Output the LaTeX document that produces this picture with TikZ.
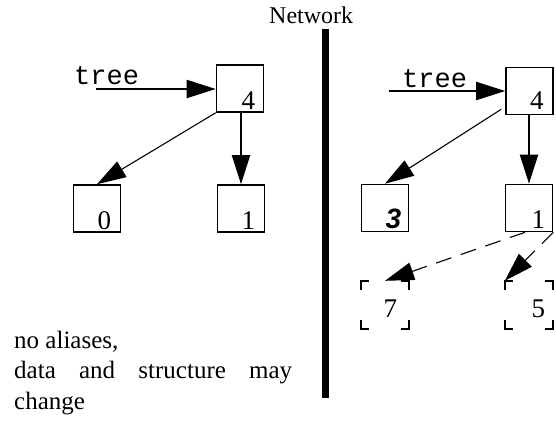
\documentclass[tikz,border=0pt]{standalone}
\usepackage{fontspec}
\setmainfont{Liberation Serif}
\newfontfamily\monofnt{Liberation Mono}
\newfontfamily\sansfnt{Liberation Sans}
\usetikzlibrary{arrows.meta}
\begin{document}
\begin{tikzpicture}[x=1pt,y=-1pt,
  box/.style={draw,line width=1.6pt,minimum width=47pt,minimum height=47pt,inner sep=0pt},
  ghost/.style={minimum width=48pt,minimum height=48pt,inner sep=0pt},
  digit/.style={font=\fontsize{27}{30}\selectfont,inner sep=0pt,anchor=base east},
  lbl/.style={font=\fontsize{25}{30}\selectfont,inner sep=0pt,anchor=base west},
  ptr/.style={font=\monofnt\fontsize{27}{30}\selectfont,inner sep=0pt,anchor=base west},
  tip/.style={-{Triangle[length=29pt,width=18pt]}},
  thinarr/.style={tip,line width=1.1pt},
  thickarr/.style={tip,line width=2pt},
  dasharr/.style={tip,line width=1.1pt,dash pattern=on 16pt off 10pt},
  corner/.style={line width=1.6pt}]
\useasboundingbox (0,0) rectangle (556,420);
% title and divider
\node[lbl,font=\fontsize{24}{28}\selectfont] (title) at (269,24) {Network};
\draw[line width=7pt] (325.5,29) -- (325.5,398);
% left tree
\node[box] (L4) at (240,88.5) {};
\node[digit] at ([xshift=-9pt,yshift=3pt]L4.south east) {4};
\node[box] (L0) at (97,208.5) {};
\node[digit] at ([xshift=-10pt,yshift=3pt]L0.south east) {0};
\node[box] (L1) at (241,208.5) {};
\node[digit] at ([xshift=-10pt,yshift=3pt]L1.south east) {1};
\node[ptr] (tl) at (74,84) {tree};
\coordinate (tls) at (96,89);
\draw[thickarr] (tls) -- (tls -| L4.west);
\draw[thinarr] (L4.south west) -- (L0.north);
\draw[thickarr] (L1.north |- L4.south) -- (L1.north);
% right tree
\node[box] (R4) at (529.5,91) {};
\node[digit] at ([xshift=-10pt,yshift=6pt]R4.south east) {4};
\node[box] (R3) at (385,208) {};
\node[digit,font=\sansfnt\bfseries\itshape\fontsize{28}{30}\selectfont] at ([xshift=-8pt,yshift=4pt]R3.south east) {3};
\node[box] (R1) at (529,208) {};
\node[digit] at ([xshift=-8pt,yshift=4pt]R1.south east) {1};
\node[ghost] (R7) at (385,305) {};
\node[ghost] (R5) at (529,305) {};
\foreach \n in {R7,R5}{
  \draw[corner] ([yshift=-9pt]\n.north west) -- (\n.north west) -- ([xshift=8pt]\n.north west);
  \draw[corner] ([yshift=-9pt]\n.north east) -- (\n.north east) -- ([xshift=-8pt]\n.north east);
  \draw[corner] ([yshift=9pt]\n.south west) -- (\n.south west) -- ([xshift=8pt]\n.south west);
  \draw[corner] ([yshift=9pt]\n.south east) -- (\n.south east) -- ([xshift=-8pt]\n.south east);
}
\node[digit] at ([xshift=-12pt,yshift=12pt]R7.south east) {7};
\node[digit] at ([xshift=-8pt,yshift=12pt]R5.south east) {5};
\node[ptr] (tr) at (402,87) {tree};
\coordinate (trs) at (389,91);
\draw[thickarr] (trs) -- (trs -| R4.west);
\draw[thinarr] ([xshift=-4pt,yshift=6pt]R4.south west) -- (R3.north);
\draw[thickarr] (R1.north |- R4.south) -- (R1.north);
\draw[dasharr] ([xshift=-4pt]R1.south) -- (R7.north);
\draw[dasharr] (R1.south east) -- (R5.north west);
% caption
\node[lbl] (c1) at (14,348) {no aliases,};
\node[lbl] (c2) at (14,378) {\hbox to 278pt{data\hfill and\hfill structure\hfill may}};
\node[lbl] (c3) at (14,409) {change};
\end{tikzpicture}
\end{document}
